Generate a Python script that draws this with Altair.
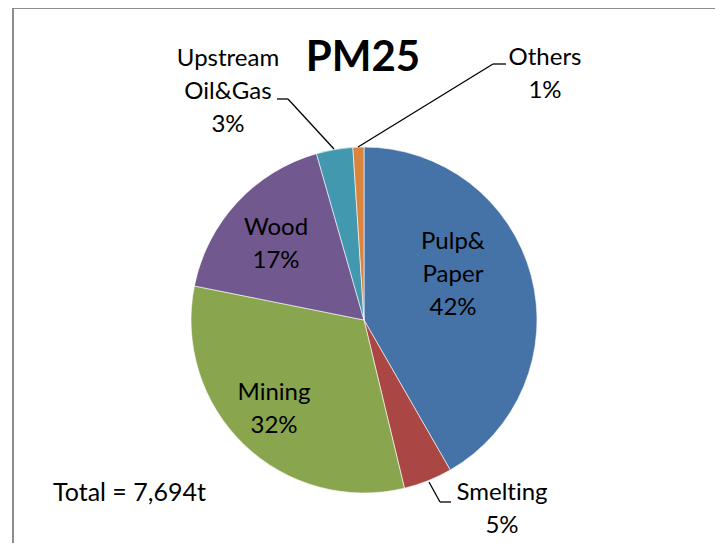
import altair as alt
import pandas as pd

# ---- data ----
categories = ["Pulp&Paper", "Smelting", "Mining", "Wood", "Upstream Oil&Gas", "Others"]
tonnes = [3208, 350, 2455, 1340, 262, 79]
colors = ["#4572A7", "#AA4643", "#89A54E", "#71588F", "#4198AF", "#DB843D"]
total_label = "Total = 7,694t"
title_text = "PM25"

total = sum(tonnes)
pcts = [f"{round(v / total * 100)}%" for v in tonnes]

pie_df = pd.DataFrame({"category": categories, "tonnes": tonnes, "order": list(range(len(categories)))})

# ---- layout (pixels in plot coordinates) ----
W, H = 707, 535
CX, CY, R = 356, 312, 173
FONT = "Lato"
FS = 24
LH = 33
ZWNJ = "\u200c"  # prevents the "ti" ligature of Lato

label_lines = {
    "Pulp&Paper": ["Pulp&", "Paper"],
    "Smelting": ["Smelt" + ZWNJ + "ing"],
    "Mining": ["Mining"],
    "Wood": ["Wood"],
    "Upstream Oil&Gas": ["Upstream", "Oil&Gas"],
    "Others": ["Others"],
}
label_anchor = {  # centre x, middle y of the first line
    "Pulp&Paper": (445, 234),
    "Smelting": (494, 485),
    "Mining": (266, 385),
    "Wood": (268, 220),
    "Upstream Oil&Gas": (220, 51),
    "Others": (537, 50),
}
rows = []
for cat, pct in zip(categories, pcts):
    lines = label_lines[cat] + [pct]
    x0, y0 = label_anchor[cat]
    for i, t in enumerate(lines):
        rows.append({"t": t, "px": x0, "py": y0 + i * LH})
lab_df = pd.DataFrame(rows)

leaders = pd.DataFrame([
    {"x": 269, "y": 91, "x2": 280, "y2": 91},
    {"x": 280, "y": 91, "x2": 326, "y2": 141},
    {"x": 350, "y": 139, "x2": 485, "y2": 56},
    {"x": 485, "y": 56, "x2": 498, "y2": 56},
    {"x": 421, "y": 474, "x2": 432, "y2": 494},
    {"x": 432, "y": 494, "x2": 443, "y2": 494},
])

frame = pd.DataFrame([
    {"x": 5, "y": 0, "x2": 5, "y2": H + 20},
    {"x": 708, "y": 0, "x2": 708, "y2": H + 20},
    {"x": 5, "y": 0, "x2": 708, "y2": 0},
])

frame_layer = alt.Chart(frame).mark_rule(color="#8C8C8C", strokeWidth=2).encode(
    x=alt.X("x:Q", scale=None), y=alt.Y("y:Q", scale=None),
    x2="x2:Q", y2="y2:Q",
)

pie = alt.Chart(pie_df).mark_arc(radius=R, stroke="white", strokeWidth=0.6).encode(
    theta=alt.Theta("tonnes:Q", stack=True),
    color=alt.Color("category:N", scale=alt.Scale(domain=categories, range=colors), legend=None),
    order=alt.Order("order:Q"),
    x=alt.value(CX), y=alt.value(CY),
)

leader_layer = alt.Chart(leaders).mark_rule(color="black", strokeWidth=1.3).encode(
    x=alt.X("x:Q", scale=None), y=alt.Y("y:Q", scale=None),
    x2="x2:Q", y2="y2:Q",
)

labels = alt.Chart(lab_df).mark_text(font=FONT, fontSize=FS, color="black", align="center", baseline="middle").encode(
    x=alt.X("px:Q", scale=None), y=alt.Y("py:Q", scale=None), text="t:N",
)

title_layer = alt.Chart(pd.DataFrame({"t": [title_text]})).mark_text(
    font=FONT, fontSize=42, fontWeight="bold", color="black", align="center", baseline="middle"
).encode(x=alt.value(355), y=alt.value(50), text="t:N")

total_layer = alt.Chart(pd.DataFrame({"t": [total_label]})).mark_text(
    font=FONT, fontSize=25, color="black", align="left", baseline="middle"
).encode(x=alt.value(45), y=alt.value(485), text="t:N")

chart = alt.layer(frame_layer, pie, leader_layer, labels, title_layer, total_layer).properties(
    width=W, height=H, padding=0, autosize=alt.AutoSizeParams(type="none"),
).configure_view(stroke=None)

chart.save("out.html", embed_options={"renderer": "svg", "actions": False})
